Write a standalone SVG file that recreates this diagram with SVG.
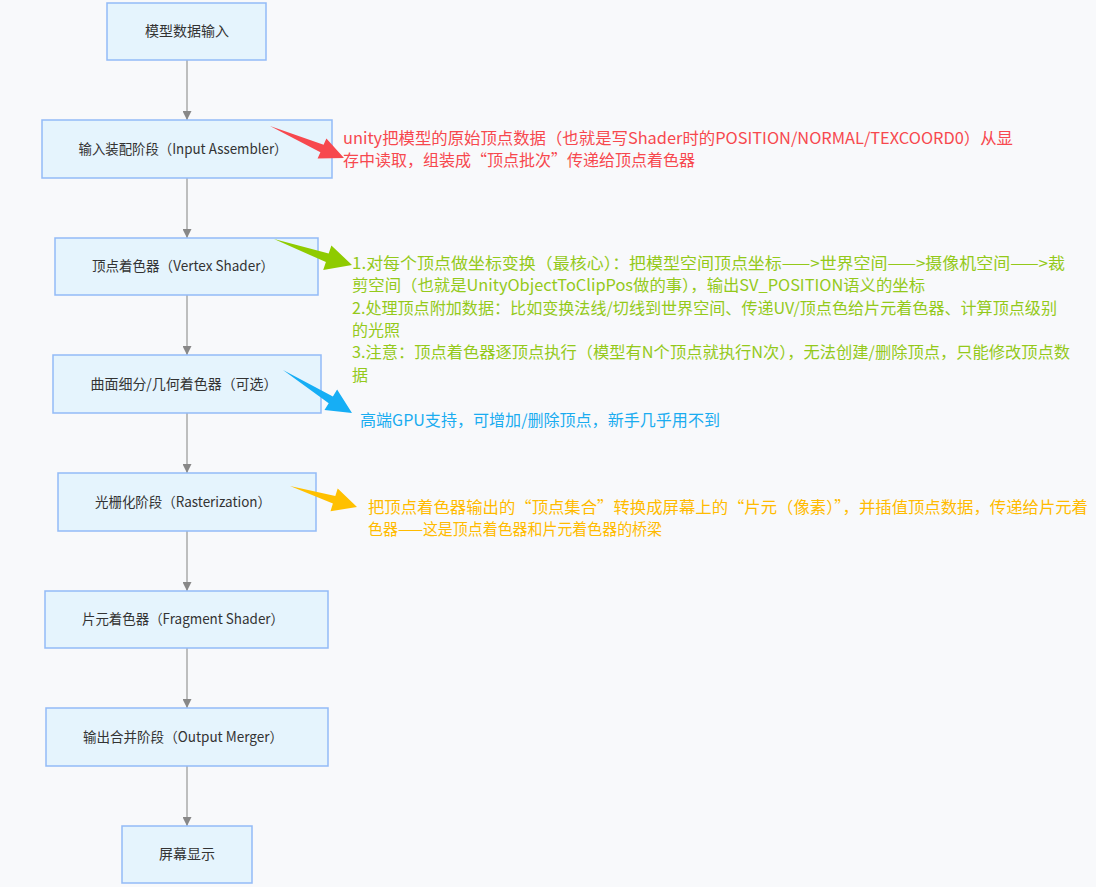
<svg xmlns="http://www.w3.org/2000/svg" width="1096" height="887" viewBox="0 0 1096 887">
<defs>
<style>
.node rect{fill:#e5f4fd;stroke:#92bbf7;stroke-width:1.5}
.node text{font-family:"Noto Sans CJK SC","Microsoft YaHei",sans-serif;font-size:14px;fill:#333;text-anchor:middle}
.edge{stroke:#aaaaaa;stroke-width:1.5;fill:none;marker-end:url(#ah)}
.note{font-family:"Noto Sans CJK SC","Microsoft YaHei",sans-serif;font-size:16px}
</style>
<marker id="ah" viewBox="0 0 10 10" refX="10" refY="5" markerWidth="6" markerHeight="6" orient="auto" markerUnits="strokeWidth">
<path d="M0,0 L10,5 L0,10 z" fill="#888"/>
</marker>
</defs>
<rect x="0" y="0" width="1096" height="887" fill="#f8f9fb"/>
<g id="connectors">
<line class="edge" x1="187" y1="60" x2="187" y2="120"/>
<line class="edge" x1="187" y1="178" x2="187" y2="238"/>
<line class="edge" x1="187" y1="295" x2="187" y2="355"/>
<line class="edge" x1="187" y1="413" x2="187" y2="473"/>
<line class="edge" x1="187" y1="531" x2="187" y2="591"/>
<line class="edge" x1="187" y1="648" x2="187" y2="708"/>
<line class="edge" x1="187" y1="766" x2="187" y2="826"/>
</g>
<g id="n1" class="node"><rect x="107" y="3" width="159" height="57"/><text x="187" y="36">模型数据输入</text></g>
<g id="n2" class="node"><rect x="42" y="120" width="290" height="58"/><text x="183" y="154" textLength="209" lengthAdjust="spacingAndGlyphs">输入装配阶段（Input Assembler）</text></g>
<g id="n3" class="node"><rect x="55" y="238" width="263" height="57"/><text x="183" y="271" textLength="182" lengthAdjust="spacingAndGlyphs">顶点着色器（Vertex Shader）</text></g>
<g id="n4" class="node"><rect x="53" y="355" width="268" height="58"/><text x="184" y="389" textLength="187" lengthAdjust="spacingAndGlyphs">曲面细分/几何着色器（可选）</text></g>
<g id="n5" class="node"><rect x="58" y="473" width="258" height="58"/><text x="183" y="507" textLength="176" lengthAdjust="spacingAndGlyphs">光栅化阶段（Rasterization）</text></g>
<g id="n6" class="node"><rect x="45" y="591" width="283" height="57"/><text x="183" y="624" textLength="202" lengthAdjust="spacingAndGlyphs">片元着色器（Fragment Shader）</text></g>
<g id="n7" class="node"><rect x="46" y="708" width="282" height="58"/><text x="183" y="742" textLength="200" lengthAdjust="spacingAndGlyphs">输出合并阶段（Output Merger）</text></g>
<g id="n8" class="node"><rect x="122" y="826" width="130" height="57"/><text x="187" y="859">屏幕显示</text></g>
<g id="note-red">
<polygon fill="#f7484e" points="270,126 323.6,144.8 326.4,138.4 344,158 317.6,158.6 320.4,152.2"/>
<text class="note" fill="#f7484e" x="343" y="144" textLength="670" lengthAdjust="spacingAndGlyphs">unity把模型的原始顶点数据（也就是写Shader时的POSITION/NORMAL/TEXCOORD0）从显</text>
<text class="note" fill="#f7484e" x="343" y="166" textLength="352" lengthAdjust="spacingAndGlyphs">存中读取，组装成“顶点批次”传递给顶点着色器</text>
</g>
<g id="note-green">
<polygon fill="#8fcb00" points="274,239 328.7,253.5 331.4,245.5 352,265 323.2,270.1 325.9,262.1"/>
<text class="note" fill="#94c91a" x="352" y="269" textLength="713" lengthAdjust="spacingAndGlyphs">1.对每个顶点做坐标变换（最核心）：把模型空间顶点坐标——&gt;世界空间——&gt;摄像机空间——&gt;裁</text>
<text class="note" fill="#94c91a" x="352" y="291" textLength="573" lengthAdjust="spacingAndGlyphs">剪空间（也就是UnityObjectToClipPos做的事），输出SV_POSITION语义的坐标</text>
<text class="note" fill="#94c91a" x="352" y="314" textLength="705" lengthAdjust="spacingAndGlyphs">2.处理顶点附加数据：比如变换法线/切线到世界空间、传递UV/顶点色给片元着色器、计算顶点级别</text>
<text class="note" fill="#94c91a" x="352" y="336">的光照</text>
<text class="note" fill="#94c91a" x="352" y="358" textLength="718" lengthAdjust="spacingAndGlyphs">3.注意：顶点着色器逐顶点执行（模型有N个顶点就执行N次），无法创建/删除顶点，只能修改顶点数</text>
<text class="note" fill="#94c91a" x="352" y="381">据</text>
</g>
<g id="note-blue">
<polygon fill="#16aef5" points="283,370 332.9,396.4 337.1,389.6 352,413 324.5,410 328.7,403.2"/>
<text class="note" fill="#1aacf0" x="360" y="426" textLength="360" lengthAdjust="spacingAndGlyphs">高端GPU支持，可增加/删除顶点，新手几乎用不到</text>
</g>
<g id="note-orange">
<polygon fill="#ffc000" points="290,486 335.3,496 337.7,488.4 357,507 330.5,511.2 332.9,503.6"/>
<text class="note" fill="#ffbb00" x="368" y="513" textLength="720" lengthAdjust="spacingAndGlyphs">把顶点着色器输出的“顶点集合”转换成屏幕上的“片元（像素）”，并插值顶点数据，传递给片元着</text>
<text class="note" fill="#ffbb00" x="368" y="535" textLength="294" lengthAdjust="spacingAndGlyphs">色器——这是顶点着色器和片元着色器的桥梁</text>
</g>
</svg>
